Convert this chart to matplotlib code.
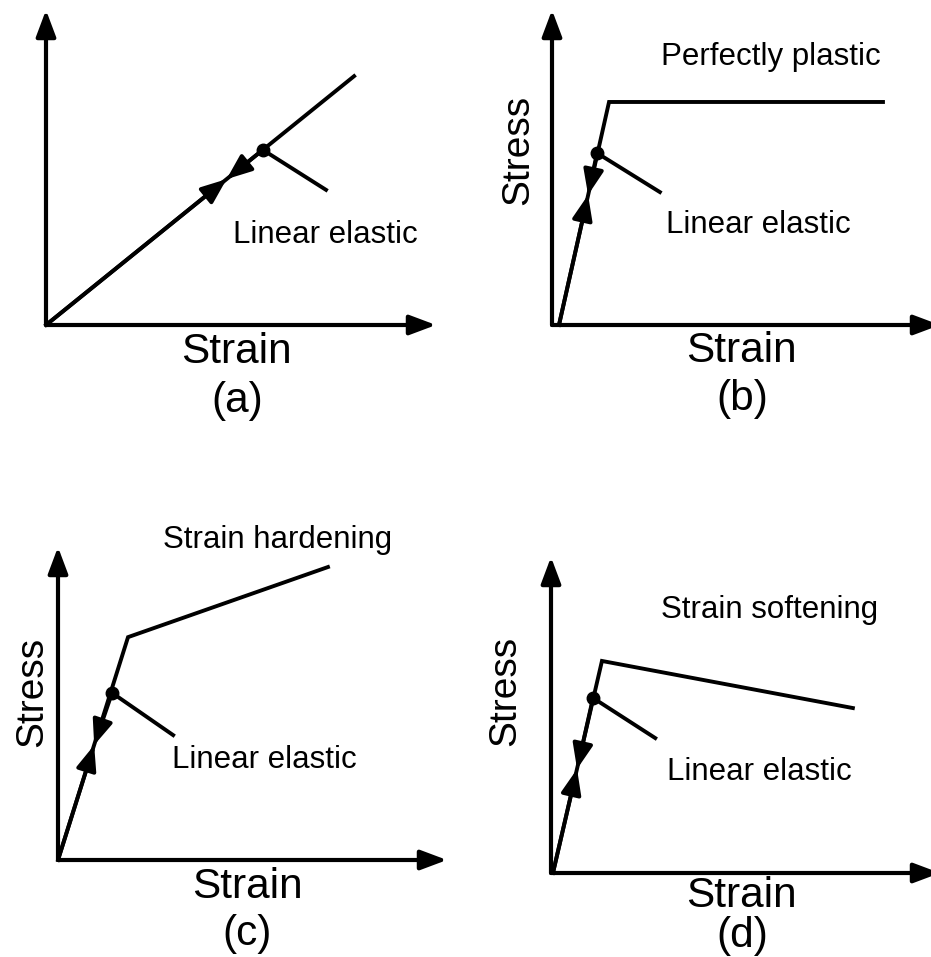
import matplotlib
matplotlib.use("Agg")
import matplotlib.pyplot as plt

plt.rcParams['font.family'] = ['Liberation Sans', 'DejaVu Sans']

W, H = 931, 957

# stress / strain in arbitrary units, both axes run 0..10 in every panel
strain_a = [0, 7.9]
stress_a = [0, 7.9]
strain_b = [0.18, 1.47, 8.53]
stress_b = [0, 7.08, 7.08]
strain_c = [0, 1.8, 6.94]
stress_c = [0, 7.12, 9.36]
strain_d = [0.05, 1.31, 7.76]
stress_d = [0, 6.71, 5.22]

# marked elastic point and end of its leader line
dot_a, lead_a = (5.56, 5.56), (7.18, 4.29)
dot_b, lead_b = (1.16, 5.46), (2.78, 4.22)
dot_c, lead_c = (1.39, 5.34), (2.96, 3.99)
dot_d, lead_d = (1.08, 5.54), (2.68, 4.27)

# where the loading / unloading arrow tips meet
meet_a = (4.63, 4.63)
meet_b = (0.93, 4.13)
meet_c = (0.93, 3.67)
meet_d = (0.67, 3.29)

top_labels = ["", "Perfectly plastic", "Strain hardening", "Strain softening"]
tags = ["(a)", "(b)", "(c)", "(d)"]

# pixel layout: origin x, origin y, x-arrow tip, y-arrow tip
frames = [(46, 325, 436, 10), (552, 325, 940, 10),
          (58, 860, 447, 547), (551, 873, 940, 557)]

curves = [(strain_a, stress_a, dot_a, lead_a, meet_a),
          (strain_b, stress_b, dot_b, lead_b, meet_b),
          (strain_c, stress_c, dot_c, lead_c, meet_c),
          (strain_d, stress_d, dot_d, lead_d, meet_d)]

fig = plt.figure(figsize=(W / 100, H / 100), dpi=100)


def px(x, y):
    return x / W, 1 - y / H


lw = 2.8
for (ox, oy, xt, yt), (sx, sy, dot, lead, meet) in zip(frames, curves):
    ax = fig.add_axes([ox / W, 1 - oy / H, (xt - ox) / W, (oy - yt) / H])
    ax.set_xlim(0, 10)
    ax.set_ylim(0, 10)
    ax.axis("off")

    axis_arrow = dict(arrowstyle="-|>,head_length=0.8,head_width=0.3",
                      mutation_scale=20, lw=3.0, color="black",
                      shrinkA=0, shrinkB=0)
    ax.annotate("", xy=(10, 0), xytext=(0, 0), arrowprops=axis_arrow,
                annotation_clip=False)
    ax.annotate("", xy=(0, 10), xytext=(0, 0), arrowprops=axis_arrow,
                annotation_clip=False)

    ax.plot(sx, sy, color="black", lw=lw, solid_joinstyle="miter", clip_on=False)
    ax.plot(*dot, "o", color="black", ms=9, clip_on=False)
    ax.plot([dot[0], lead[0]], [dot[1], lead[1]], color="black", lw=lw,
            clip_on=False)

    small = dict(arrowstyle="-|>,head_length=0.8,head_width=0.32",
                 mutation_scale=19, lw=lw, color="black",
                 shrinkA=0, shrinkB=0)
    ax.annotate("", xy=meet, xytext=(sx[0], sy[0]), arrowprops=small,
                annotation_clip=False)
    ax.annotate("", xy=meet, xytext=dot, arrowprops=small,
                annotation_clip=False)

# text, placed in pixels
txt = dict(ha="center", va="baseline", color="black")
for (x, y) in [(236, 363), (741, 362), (247, 898), (741, 907)]:
    fig.text(*px(x, y), "Strain", fontsize=30.5, **txt)
for (x, y), s in zip([(237, 412), (742, 410), (247, 945), (742, 947)], tags):
    fig.text(*px(x, y), s, fontsize=30.5, **txt)
for (x, y) in [(325, 243), (758, 233), (264, 768), (759, 780)]:
    fig.text(*px(x, y), "Linear elastic", fontsize=22.5, **txt)
for (x, y), s in zip([(0, 0), (771, 65), (278, 548), (770, 618)], top_labels):
    if s:
        fig.text(*px(x, y), s, fontsize=22.5, **txt)
for (x, y) in [(528, 150), (42, 692), (515, 691)]:
    fig.text(*px(x, y), "Stress", fontsize=28, rotation=90,
             rotation_mode="anchor", ha="center", va="baseline")

fig.savefig("out.png", dpi=100, facecolor="white")
